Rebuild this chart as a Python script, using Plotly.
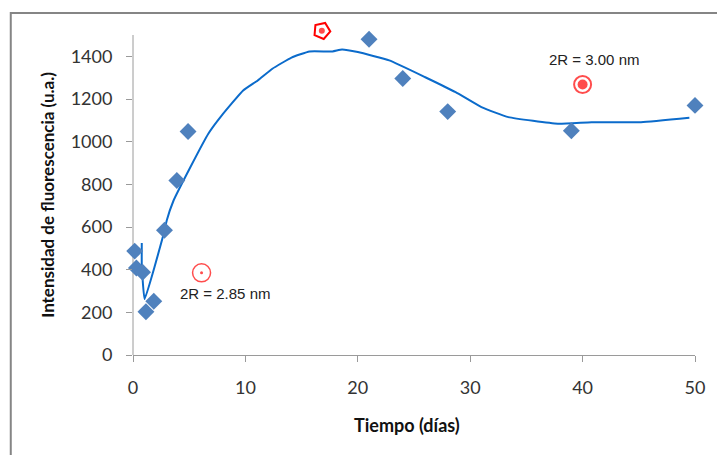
import plotly.graph_objects as go

# Measured data (diamonds)
t_days = [0.15, 0.3, 0.85, 1.15, 1.85, 2.8, 3.9, 4.9, 21.0, 24.0, 28.0, 39.0, 50.0]
intensity = [487, 408, 388, 203, 252, 585, 818, 1048, 1480, 1296, 1141, 1051, 1170]

# Fitted trend line
fit_t = [0.78, 0.78, 0.85, 1.03, 2.8, 3.0, 3.6, 5.1, 6.7, 7.9, 9.8, 11.1, 12.4, 14.1, 15.7,
         17.75, 18.6, 20.0, 22.8, 26.0, 28.7, 31.0, 33.4, 37.8, 40.8, 45.2, 49.5]
fit_i = [525, 420, 360, 262, 582, 630, 723, 880, 1037, 1123, 1240, 1287, 1342, 1394, 1423,
         1423, 1432, 1420, 1381, 1302, 1232, 1162, 1115, 1084, 1091, 1091, 1112]

# Red highlighted points
red_t = [16.8, 6.1, 40.0]
red_i = [1520, 385, 1268]

ann_labels = ["2R = 2.85 nm", "2R = 3.00 nm"]
ann_t = [8.2, 41.0]
ann_i = [290, 1383]

Y_AXIS_MAX = 1500          # visible axis line ends here
Y_VIEW_MAX = 1500 * 340 / 320  # view extends above so the top red marker shows

fig = go.Figure()

fig.add_trace(go.Scatter(x=fit_t, y=fit_i, mode="lines", line_shape="spline",
                         line=dict(color="#0B6BCB", width=2, smoothing=0.4),
                         hoverinfo="skip", cliponaxis=False))
fig.add_trace(go.Scatter(x=t_days, y=intensity, mode="markers", cliponaxis=False,
                         marker=dict(symbol="diamond", size=13, color="#4F81BD",
                                     line=dict(width=0))))
fig.add_trace(go.Scatter(x=[red_t[0]], y=[red_i[0]], mode="markers", cliponaxis=False,
                         marker=dict(symbol="pentagon-open", size=17, color="#FF0000",
                                     line=dict(width=2, color="#FF0000"), angle=95)))
fig.add_trace(go.Scatter(x=red_t[1:], y=red_i[1:], mode="markers", cliponaxis=False,
                         marker=dict(symbol="circle-open", size=[18, 17], color="#FF0000",
                                     line=dict(width=[1.5, 2], color="#FF0000"))))
fig.add_trace(go.Scatter(x=red_t, y=red_i, mode="markers", cliponaxis=False,
                         marker=dict(symbol="circle", size=[6, 3, 10], color="#FF0000",
                                     line=dict(width=0))))

for lab, tx, iy in zip(ann_labels, ann_t, ann_i):
    fig.add_annotation(x=tx, y=iy, text=lab, showarrow=False,
                       font=dict(family="Liberation Sans, Arial", size=15, color="#222222"))

fig.add_annotation(xref="paper", yref="paper", x=0.487, y=-0.206, text="<b>Tiempo (días)</b>",
                   xanchor="center", yanchor="middle",
                   showarrow=False, font=dict(family="Lato", size=18, color="#111111"))
fig.add_annotation(xref="paper", yref="paper", x=-0.152, y=0.47,
                   text="<b>Intensidad de fluorescencia (u.a.)</b>", textangle=-90,
                   xanchor="center", yanchor="middle",
                   showarrow=False, font=dict(family="Lato", size=17, color="#111111"))

# y axis line (stops at 1500)
fig.add_shape(type="line", xref="paper", yref="y", x0=0, x1=0, y0=0, y1=Y_AXIS_MAX,
              line=dict(color="#9a9a9a", width=1), layer="below")
# chart area frame
fig.add_shape(type="rect", xref="paper", yref="paper", x0=-0.2175, x1=1.2, y0=-0.5, y1=1.006,
              line=dict(color="#858585", width=2), layer="below")

fig.update_layout(
    width=717, height=455,
    margin=dict(l=133, r=19, t=15, b=100),
    paper_bgcolor="white", plot_bgcolor="white",
    showlegend=False,
    font=dict(family="Lato", size=18, color="#333333"),
)
fig.update_xaxes(range=[0, 50], tickvals=[0, 10, 20, 30, 40, 50], showgrid=False,
                 zeroline=False, showline=True, linecolor="#9a9a9a", linewidth=1,
                 ticks="outside", ticklen=6, tickcolor="#9a9a9a",
                 ticklabelstandoff=10)
fig.update_yaxes(range=[0, Y_VIEW_MAX], tickvals=[0, 200, 400, 600, 800, 1000, 1200, 1400],
                 showgrid=False, zeroline=False, showline=False,
                 ticks="outside", ticklen=6, tickcolor="#9a9a9a", ticklabelstandoff=10)

fig.write_html("out.html")
